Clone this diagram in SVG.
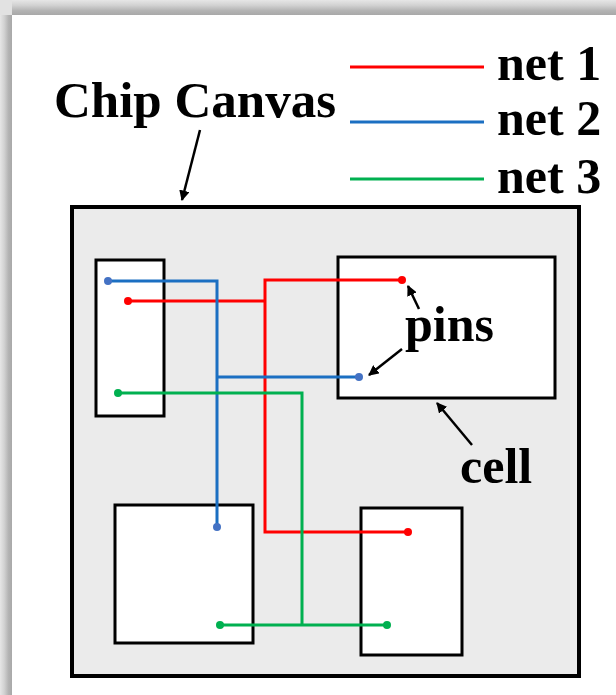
<svg xmlns="http://www.w3.org/2000/svg" width="616" height="695" viewBox="0 0 616 695">
<defs>
<linearGradient id="gTop" x1="0" y1="0" x2="0" y2="1">
<stop offset="0" stop-color="#e6e6e6"/><stop offset="0.35" stop-color="#d2d2d2"/><stop offset="0.7" stop-color="#b4b4b4"/><stop offset="1" stop-color="#a8a8a8"/>
</linearGradient>
<linearGradient id="gLeft" x1="0" y1="0" x2="1" y2="0">
<stop offset="0" stop-color="#e6e6e6"/><stop offset="0.35" stop-color="#d2d2d2"/><stop offset="0.7" stop-color="#b4b4b4"/><stop offset="1" stop-color="#a8a8a8"/>
</linearGradient>
<marker id="ah" viewBox="0 0 10 10" refX="9" refY="5" markerWidth="4.2" markerHeight="4.2" orient="auto" markerUnits="strokeWidth">
<path d="M0,0 L10,5 L0,10 z" fill="#000"/>
</marker>
<style>
.lbl{font-family:"Liberation Serif","Times New Roman",serif;font-weight:bold;font-size:50px;fill:#000}
.cell{fill:#fff;stroke:#000;stroke-width:3}
.net{fill:none;stroke-width:3}
.r{stroke:#ff0000}.b{stroke:#1b6fc2}.g{stroke:#00b050}
.ptr{stroke:#000;stroke-width:2.5;fill:none;marker-end:url(#ah)}
</style>
</defs>
<rect x="0" y="0" width="616" height="695" fill="#fff"/>
<rect x="0" y="0" width="616" height="15" fill="url(#gTop)"/>
<rect x="0" y="0" width="12" height="695" fill="url(#gLeft)"/>
<rect x="0" y="0" width="12" height="15" fill="#e2e2e2"/>

<g id="legend">
<line x1="350" y1="67" x2="484" y2="67" class="net r"/>
<line x1="350" y1="122" x2="484" y2="122" class="net b"/>
<line x1="350" y1="179" x2="484" y2="179" class="net g"/>
<text x="497" y="80" class="lbl">net 1</text>
<text x="497" y="135" class="lbl">net 2</text>
<text x="497" y="193" class="lbl">net 3</text>
</g>

<g id="chip-canvas">
<rect x="72" y="207" width="507" height="469" fill="#ebebeb" stroke="#000" stroke-width="4"/>
<text x="54" y="117" class="lbl" font-size="51" style="font-size:51px">Chip Canvas</text>
</g>

<g id="cell-left"><rect x="96" y="260" width="68" height="156" class="cell"/></g>
<g id="cell-top-right"><rect x="338" y="257" width="217" height="141" class="cell"/></g>
<g id="cell-bottom-left"><rect x="115" y="505" width="138" height="138" class="cell"/></g>
<g id="cell-bottom-right"><rect x="361" y="508" width="101" height="147" class="cell"/></g>

<g id="connectors">
<path d="M128,301 H265 M402,280 H265 V532 H408" class="net r"/>
<path d="M108,281 H217 V527 M217,377 H359" class="net b"/>
<path d="M118,393 H302 V625 M220,625 H387" class="net g"/>
<g fill="#ff0000"><circle cx="128" cy="301" r="4"/><circle cx="402" cy="280" r="4"/><circle cx="408" cy="532" r="4"/></g>
<g fill="#4472c4"><circle cx="108" cy="281" r="4"/><circle cx="217" cy="527" r="4"/><circle cx="359" cy="377" r="4"/></g>
<g fill="#00b050"><circle cx="118" cy="393" r="4"/><circle cx="220" cy="625" r="4"/><circle cx="387" cy="625" r="4"/></g>
<line x1="200" y1="130" x2="182" y2="200" class="ptr"/>
<line x1="419" y1="309" x2="408" y2="286" class="ptr"/>
<line x1="402" y1="349" x2="369" y2="375" class="ptr"/>
<line x1="472" y1="445" x2="437" y2="403" class="ptr"/>
</g>

<g id="labels">
<text x="405" y="341" class="lbl">pins</text>
<text x="460" y="483" class="lbl">cell</text>
</g>
</svg>
